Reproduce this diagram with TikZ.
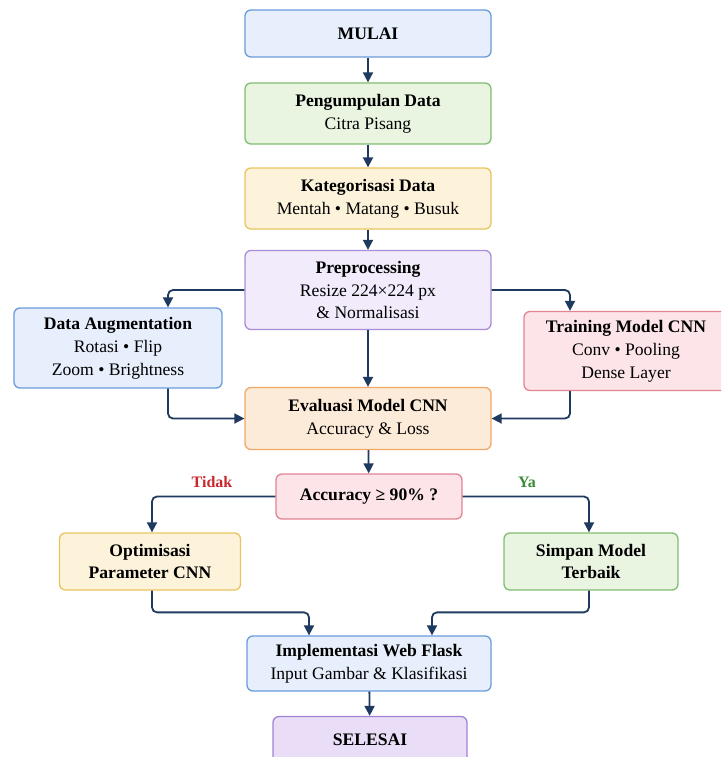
\documentclass[tikz,border=0pt]{standalone}
\usepackage{fontspec}
\setmainfont{Liberation Serif}
\usetikzlibrary{arrows.meta, positioning}

\definecolor{arrowblue}{HTML}{1E3A5F}
\definecolor{blueFill}{HTML}{E6EFFB}
\definecolor{blueLine}{HTML}{6A9BDB}
\definecolor{greenFill}{HTML}{E9F4E1}
\definecolor{greenLine}{HTML}{80BE70}
\definecolor{yellowFill}{HTML}{FDF3DA}
\definecolor{yellowLine}{HTML}{E9C45E}
\definecolor{purpleFill}{HTML}{F2EBFB}
\definecolor{purpleLine}{HTML}{A98ED9}
\definecolor{pinkFill}{HTML}{FCE4E8}
\definecolor{pinkLine}{HTML}{E18593}
\definecolor{orangeFill}{HTML}{FDEBD9}
\definecolor{orangeLine}{HTML}{F1A865}
\definecolor{doneFill}{HTML}{EADDF8}
\definecolor{doneLine}{HTML}{A083D2}
\definecolor{noRed}{HTML}{C8282E}
\definecolor{yesGreen}{HTML}{3B8A3A}

\begin{document}
\begin{tikzpicture}[x=1pt, y=-1pt,
    % Styles
    box/.style={draw, rounded corners=6pt, line width=1.3pt, align=center, inner sep=0pt,
        font=\fontsize{17.6}{22.8}\selectfont},
    blue box/.style={box, fill=blueFill, draw=blueLine},
    green box/.style={box, fill=greenFill, draw=greenLine},
    yellow box/.style={box, fill=yellowFill, draw=yellowLine},
    purple box/.style={box, fill=purpleFill, draw=purpleLine},
    pink box/.style={box, fill=pinkFill, draw=pinkLine},
    orange box/.style={box, fill=orangeFill, draw=orangeLine},
    done box/.style={box, fill=doneFill, draw=doneLine},
    flow/.style={draw=arrowblue, line width=1.8pt, rounded corners=5pt,
        -{Triangle[length=10pt, width=10pt]}},
    branch label/.style={font=\fontsize{16}{18}\selectfont\bfseries},
]
    \useasboundingbox (0,0) rectangle (721,757);
    \clip (0,0) rectangle (721,757);

    % Main column
    \node[blue box, minimum width=246pt, minimum height=47pt] (mulai) at (368,33.5) {\textbf{MULAI}};
    \node[green box, minimum width=246pt, minimum height=61pt] (kumpul) at (368,113.5)
        {\textbf{Pengumpulan Data}\\Citra Pisang};
    \node[yellow box, minimum width=246pt, minimum height=61pt] (kategori) at (368,198.5)
        {\textbf{Kategorisasi Data}\\Mentah • Matang • Busuk};
    \node[purple box, minimum width=246pt, minimum height=79pt] (prep) at (368,290)
        {\textbf{Preprocessing}\\Resize 224×224 px\\\& Normalisasi};

    % Side branches
    \node[blue box, minimum width=208pt, minimum height=80pt] (augment) at (118,348)
        {\textbf{Data Augmentation}\\Rotasi • Flip\\Zoom • Brightness};
    \node[pink box, minimum width=208pt, minimum height=79pt] (training) at (628,351)
        {\hspace*{-4pt}\textbf{Training Model CNN}\\\hspace*{-4pt}Conv • Pooling\\\hspace*{-4pt}Dense Layer};

    \node[orange box, minimum width=246pt, minimum height=62pt] (eval) at (368,418.5)
        {\textbf{Evaluasi Model CNN}\\Accuracy \& Loss};
    \node[pink box, minimum width=186pt, minimum height=45pt] (acc) at (369,496.5)
        {\textbf{Accuracy ≥ 90\% ?}};

    % Decision outcomes
    \node[yellow box, minimum width=181pt, minimum height=57pt] (optim) at (150,561.5)
        {\textbf{Optimisasi}\\\textbf{Parameter CNN}};
    \node[green box, minimum width=174pt, minimum height=57pt] (simpan) at (591,561.5)
        {\textbf{Simpan Model}\\\textbf{Terbaik}};

    \node[blue box, minimum width=244pt, minimum height=55pt] (impl) at (369,663.5)
        {\textbf{Implementasi Web Flask}\\Input Gambar \& Klasifikasi};
    \node[done box, minimum width=194pt, minimum height=46pt] (selesai) at (370,739.5)
        {\textbf{SELESAI}};

    % Branch labels
    \node[branch label, text=noRed] (tidak) at (212,482) {Tidak};
    \node[branch label, text=yesGreen] (ya) at (527,482) {Ya};

    % Connectors
    \draw[flow] (mulai) -- (kumpul);
    \draw[flow] (kumpul) -- (kategori);
    \draw[flow] (kategori) -- (prep);
    \draw[flow] (prep) -- (eval);
    \draw[flow] (prep.west) -| ([xshift=50pt]augment.north);
    \draw[flow] (prep.east) -| ([xshift=-58pt]training.north);
    \draw[flow] ([xshift=50pt]augment.south) |- (eval.west);
    \draw[flow] ([xshift=-58pt]training.south) |- (eval.east);
    \draw[flow] (eval) -- (acc);
    \draw[flow] (acc.west) -| ([xshift=2pt]optim.north);
    \draw[flow] (acc.east) -| ([xshift=-2pt]simpan.north);
    \draw[flow] ([xshift=2pt]optim.south) |- ([xshift=-60pt, yshift=23pt]impl.north)
        -- ([xshift=-60pt]impl.north);
    \draw[flow] ([xshift=-2pt]simpan.south) |- ([xshift=63pt, yshift=23pt]impl.north)
        -- ([xshift=63pt]impl.north);
    \draw[flow] (impl) -- (selesai);
\end{tikzpicture}
\end{document}
